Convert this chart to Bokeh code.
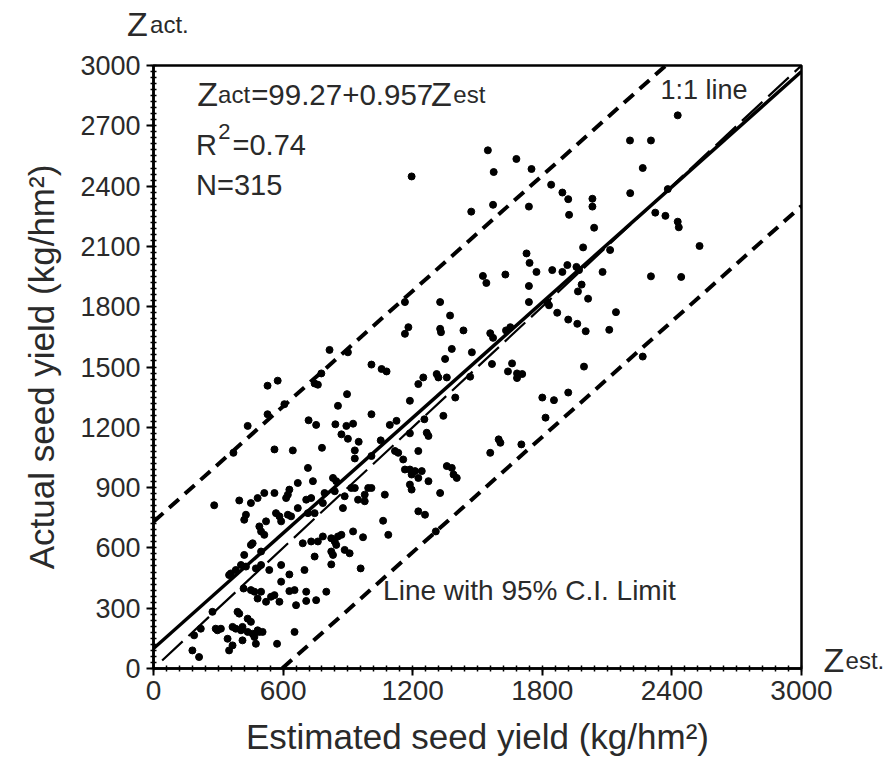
from bokeh.plotting import figure
from bokeh.models import Range1d, FixedTicker, Label
from bokeh.embed import file_html
from bokeh.resources import INLINE

# ---------------- data ----------------
est = [528, 575, 746, 761, 777, 1009, 1056, 1079, 896, 854, 1009, 1187, 1249, 1226, 606, 528, 436, 370, 560, 645,
       718, 753, 842, 893, 924, 870, 900, 950, 932, 932, 780, 715, 738, 831, 846, 916, 1009, 1052, 1094, 1125,
       1118, 1133, 1187, 1226, 1265, 1273, 1254, 1156, 1164, 1187, 1211, 1242, 1195, 1187, 1195, 1226, 1273, 668, 629, 622,
       614, 513, 560, 482, 451, 397, 281, 428, 420, 521, 567, 583, 591, 622, 637, 668, 707, 730, 715, 746,
       792, 784, 839, 885, 932, 947, 978, 994, 1009, 978, 1071, 877, 924, 970, 1063, 1087, 1226, 1257, 490, 498,
       513, 451, 420, 459, 498, 405, 428, 358, 350, 381, 474, 498, 536, 591, 629, 699, 691, 730, 761, 784,
       746, 823, 839, 854, 870, 823, 831, 823, 846, 885, 908, 959, 417, 451, 467, 482, 498, 521, 544, 560,
       583, 591, 629, 653, 660, 707, 707, 753, 800, 273, 288, 296, 312, 343, 350, 366, 366, 381, 389, 397,
       405, 412, 436, 436, 451, 459, 467, 482, 490, 505, 474, 412, 219, 188, 180, 211, 572, 653,
       1195, 1164, 1180, 1164, 815, 900,
       2427, 2206, 2303, 2265, 2207, 1548, 1680, 1575, 1750, 1841, 1893, 1920, 1924, 2032, 2032, 2040, 1738, 1572, 1471, 2323,
       2370, 2427, 2432, 2381, 2528, 1989, 2114, 1727, 1741, 1773, 1846, 1893, 1916, 1958, 1970, 1525, 1541, 1629, 1738, 1738,
       1982, 1965, 2012, 2079, 1823, 1831, 1869, 1920, 1962, 2001, 2110, 2141, 2303, 2443, 1327, 1373, 1327, 1331, 1435, 1559,
       1572, 1632, 1652, 1381, 1474,
       1350, 1567, 1660, 1641, 1683, 1707, 1683, 1311, 1319, 1358, 1466, 1397, 1342, 1993, 1800, 1854, 1920, 1815, 1598, 1606,
       1559, 1703, 1358, 1381, 1389, 1404, 1327, 2265, 1307]
act = [1407, 1432, 1418, 1412, 1468, 1512, 1490, 1478, 1365, 1307, 1265, 1332, 1448, 1415, 1315, 1265, 1207, 1073, 1090, 1085,
       1235, 1212, 1215, 1207, 1218, 1165, 1143, 1128, 1085, 1045, 1098, 998, 932, 948, 932, 898, 1057, 1135, 1212, 1232,
       1082, 1073, 1170, 1082, 1173, 1157, 1240, 1040, 990, 990, 982, 982, 965, 915, 890, 948, 932, 923, 890, 865,
       848, 873, 873, 848, 823, 836, 812, 765, 740, 732, 773, 757, 732, 765, 757, 798, 840, 848, 773, 773,
       873, 823, 882, 857, 898, 840, 865, 898, 898, 832, 865, 798, 682, 653, 735, 665, 782, 765, 707, 682,
       665, 615, 565, 623, 582, 515, 507, 473, 465, 490, 498, 515, 490, 515, 468, 490, 623, 632, 632, 657,
       557, 648, 632, 657, 665, 582, 565, 518, 615, 590, 573, 498, 398, 390, 382, 348, 382, 332, 357, 365,
       332, 432, 385, 390, 315, 382, 336, 340, 382, 282, 198, 190, 198, 148, 90, 115, 207, 198, 282, 273,
       190, 207, 248, 182, 232, 173, 157, 190, 182, 182, 123, 140, 198, 165, 90, 57, 123, 182,
       2448, 1823, 1698, 1665, 1585, 1573,
       2752, 2627, 2627, 2490, 2365, 2578, 2535, 2470, 2485, 2407, 2368, 2335, 2257, 2337, 2298, 2193, 2298, 2307, 2273, 2268,
       2252, 2223, 2195, 2385, 2102, 2095, 2082, 2065, 2018, 1973, 1982, 1973, 2007, 1998, 1982, 1953, 1918, 1960, 1903, 1823,
       1910, 1876, 1840, 1973, 1823, 1807, 1770, 1736, 1715, 1678, 1685, 1773, 1951, 1948, 1823, 1756, 1690, 1673, 1682, 1668,
       1645, 1682, 1698, 1590, 1573,
       1540, 1515, 1518, 1478, 1468, 1465, 1445, 1465, 1448, 1448, 1452, 1348, 1257, 1502, 1348, 1335, 1373, 1248, 1140, 1123,
       1073, 1115, 1007, 998, 965, 948, 873, 1552, 682]

intercept = 99.27
slope = 0.957
ci_upper_intercept = 730
ci_lower_intercept = -570
one_to_one_start = 40
axis_max = 3000
x_ticks = [0, 600, 1200, 1800, 2400, 3000]
y_ticks = [0, 300, 600, 900, 1200, 1500, 1800, 2100, 2400, 2700, 3000]

FONT = "Liberation Sans"
TXT = "#2a2a2a"

p = figure(frame_width=648, frame_height=603,
           x_range=Range1d(0, axis_max), y_range=Range1d(0, axis_max),
           output_backend="svg", toolbar_location=None,
           min_border_left=153, min_border_top=61, min_border_right=83, min_border_bottom=40)
p.xgrid.visible = False
p.ygrid.visible = False
p.outline_line_color = "black"
p.outline_line_width = 2.5
p.background_fill_color = "white"
p.border_fill_color = "white"

p.xaxis.ticker = FixedTicker(ticks=x_ticks, minor_ticks=list(range(0, axis_max + 1, 60)))
p.yaxis.ticker = FixedTicker(ticks=y_ticks, minor_ticks=list(range(0, axis_max + 1, 30)))
for ax in (p.xaxis[0], p.yaxis[0]):
    ax.axis_line_width = 2.5
    ax.axis_line_color = "black"
    ax.major_tick_out = 7
    ax.major_tick_in = 0
    ax.minor_tick_out = 3
    ax.minor_tick_in = 3
    ax.major_tick_line_width = 2
    ax.minor_tick_line_width = 1.5
    ax.major_label_text_font = FONT
    ax.major_label_text_color = TXT
    ax.axis_label_text_font = FONT
    ax.axis_label_text_font_style = "normal"
    ax.axis_label_text_color = TXT
    ax.axis_label_text_font_size = "35px"

p.xaxis.major_label_text_font_size = "28px"
p.yaxis.major_label_text_font_size = "27px"
p.xaxis.major_label_standoff = 5
p.yaxis.major_label_standoff = 6
p.xaxis.axis_label = "Estimated seed yield (kg/hm²)"
p.yaxis.axis_label = "Actual seed yield (kg/hm²)"
p.xaxis.axis_label_standoff = 14
p.yaxis.axis_label_standoff = 16

# regression line
rx = [0, axis_max]
p.line(rx, [intercept + slope * v for v in rx], line_color="black", line_width=3.5)
# 1:1 line
p.line([one_to_one_start, axis_max], [one_to_one_start, axis_max], line_color="black",
       line_width=2.2, line_dash="28 8")
# 95% C.I. limits
ux = [0, (axis_max - ci_upper_intercept) / slope]
p.line(ux, [ci_upper_intercept + slope * v for v in ux], line_color="black", line_width=4, line_dash="13 8")
lx = [-ci_lower_intercept / slope, axis_max]
p.line(lx, [ci_lower_intercept + slope * v for v in lx], line_color="black", line_width=4, line_dash="13 8")

p.scatter(est, act, size=7, fill_color="black", line_color="black")


def lab(x, y, text, size, place=None):
    l = Label(x=x, y=y, text=text, text_font=FONT, text_font_size=size,
              text_color=TXT, text_baseline="alphabetic", text_align="left")
    if place is None:
        p.add_layout(l)
    else:
        p.add_layout(l, place)


# equation
lab(202, 2856, "Z", "34px")
lab(299, 2856, "act", "24px")
lab(452, 2856, "=99.27+0.957", "29.5px")
lab(1285, 2856, "Z", "34px")
lab(1388, 2856, "est", "24px")
# R^2 and N
lab(197, 2602, "R", "29px")
lab(300, 2672, "2", "22px")
lab(366, 2602, "=0.74", "29px")
lab(197, 2403, "N=315", "29px")
lab(2347, 2876, "1:1 line", "27px")
lab(1063, 388, "Line with 95% C.I. Limit", "28px")
# axis symbols (outside the frame)
lab(-123, 3204, "Z", "34px", "above")
lab(-16, 3204, "act.", "24px", "above")
lab(3102, 40, "Z", "34px", "right")
lab(3204, 40, "est.", "24px", "right")

open("out.html", "w").write(file_html(p, INLINE))
